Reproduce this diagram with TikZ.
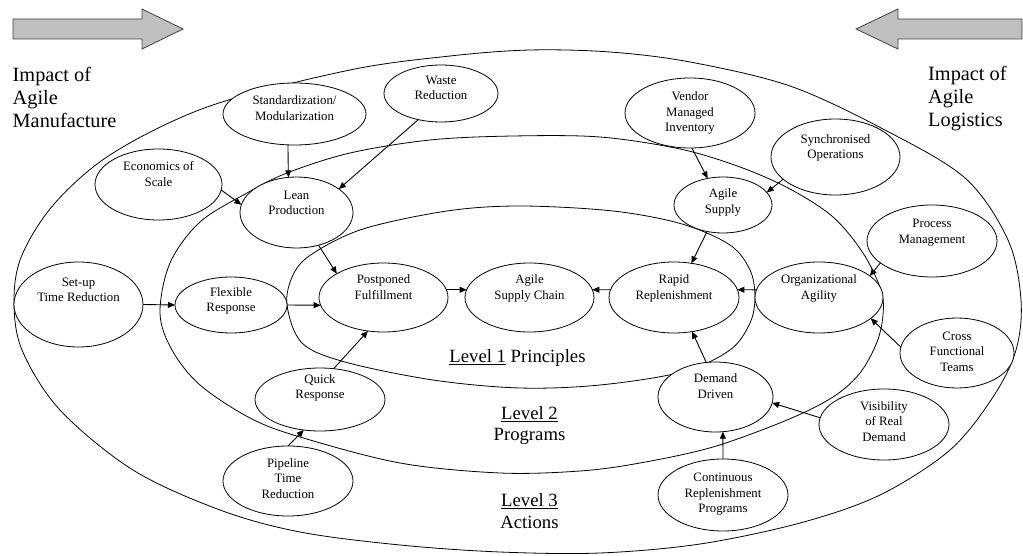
\documentclass[tikz,border=0pt]{standalone}
\usepackage{fontspec}
\setmainfont{Liberation Serif}
\usetikzlibrary{shapes.geometric,arrows.meta}

% text block inside an oval, shifted up by #1 from the oval centre
\newcommand\ovaltext[2]{\raisebox{#1}[0pt][0pt]{\begin{tabular}{@{}c@{}}#2\end{tabular}}}

\tikzset{
  oval/.style={ellipse, draw, fill=white, line width=0.8pt, inner sep=0pt, outer sep=0pt,
               font=\fontsize{12.8}{15.5}\selectfont},
  arr/.style={-{Triangle[length=7pt,width=6pt]}, line width=0.9pt},
  ring/.style={line width=0.8pt},
  bigtext/.style={font=\fontsize{20.3}{23}\selectfont, align=left, inner sep=0pt, anchor=west},
  lvl/.style={font=\fontsize{18.7}{21.5}\selectfont, align=center, inner sep=0pt},
  block/.style={draw=black!75, fill=black!25, line width=0.8pt, line join=miter}
}

\begin{document}
\begin{tikzpicture}[x=1pt,y=-1pt]
\useasboundingbox (0,0) rectangle (1023,556);

% block arrows at the top
\draw[block] (13,19) -- (142,19) -- (142,9) -- (183,29) -- (142,49) -- (142,39) -- (13,39) -- cycle;
\draw[block] (1022,19) -- (898,19) -- (898,9) -- (856,29) -- (898,49) -- (898,39) -- (1022,39) -- cycle;

% headings
\node[bigtext] (mfg) at (12.5,97) {Impact of\\Agile\\Manufacture};
\node[bigtext] (log) at (928,99) {Impact of\\Agile\\Logistics};

% the three levels: actions, programs, principles
\draw[ring] plot[smooth cycle, tension=0.55] coordinates {
  (14,300) (22,255) (55,203) (113,153) (210,106) (350,70) (450,56) (530,50)
  (610,52) (690,62) (790,86) (883,129) (965,178) (1008,240) (1021,300)
  (1016,350) (993,397) (950,450) (880,495) (800,523) (700,544) (600,553)
  (500,552) (400,545) (300,532) (220,510) (133,470) (60,410) (22,350)};
\draw[ring] plot[smooth cycle, tension=0.55] coordinates {
  (160,313) (170,263) (200,222) (247,193) (287,173) (350,153) (430,140)
  (513,136) (600,137) (680,149) (740,167) (790,189) (833,217) (863,253)
  (881,290) (883,315) (877,342) (860,373) (833,397) (787,420) (713,447)
  (640,463) (580,471) (500,473) (400,463) (300,437) (250,418) (200,385)
  (172,350)};
\draw[ring] plot[smooth cycle, tension=0.55] coordinates {
  (287,305) (293,275) (312,254) (363,229) (447,211) (520,206) (613,211)
  (682,224) (730,245) (750,270) (755,297) (750,323) (730,350) (682,372)
  (600,385) (520,388) (433,380) (345,362) (302,343)};

\node[lvl] (lv1) at (517.5,358) {\underline{Level 1} Principles};
\node[lvl] (lv2) at (529.5,425.5) {\underline{Level 2}\\Programs};
\node[lvl] (lv3) at (529.5,511) {\underline{Level 3}\\Actions};

% level 1
\node[oval, minimum width=129pt, minimum height=69pt] (asc) at (529.5,297.5) {\ovaltext{6.3pt}{Agile\\Supply Chain}};
\node[oval, minimum width=129pt, minimum height=69pt] (post) at (383.5,297.5) {\ovaltext{6.3pt}{Postponed\\Fulfillment}};
\node[oval, minimum width=130pt, minimum height=71pt] (rapid) at (674,297.5) {\ovaltext{6.3pt}{Rapid\\Replenishment}};

% level 2
\node[oval, minimum width=113pt, minimum height=71pt] (lean) at (296.5,212.5) {\ovaltext{5.8pt}{Lean\\Production}};
\node[oval, minimum width=112pt, minimum height=56pt] (flex) at (231,305) {\ovaltext{1.3pt}{Flexible\\Response}};
\node[oval, minimum width=130pt, minimum height=63pt] (quick) at (320,399.5) {\ovaltext{8.8pt}{Quick\\Response}};
\node[oval, minimum width=98pt, minimum height=56pt] (agsup) at (723,205) {\ovaltext{-0.2pt}{Agile\\Supply}};
\node[oval, minimum width=128pt, minimum height=71pt] (org) at (819,297.5) {\ovaltext{6.3pt}{Organizational\\Agility}};
\node[oval, minimum width=115pt, minimum height=70pt] (demand) at (715.5,397) {\ovaltext{6.8pt}{Demand\\Driven}};

% level 3
\node[oval, minimum width=143pt, minimum height=62pt] (std) at (294.5,114) {\ovaltext{1.8pt}{Standardization/\\Modularization}};
\node[oval, minimum width=127pt, minimum height=71pt] (econ) at (158.5,184.5) {\ovaltext{6.3pt}{Economics of\\Scale}};
\node[oval, minimum width=114pt, minimum height=57pt] (waste) at (441,93.5) {\ovaltext{1.8pt}{Waste\\Reduction}};
\node[oval, minimum width=129pt, minimum height=85pt] (setup) at (78.5,304.5) {\ovaltext{10.8pt}{Set-up\\Time Reduction}};
\node[oval, minimum width=130pt, minimum height=70pt] (pipe) at (288,481) {\ovaltext{-1.7pt}{Pipeline\\Time\\Reduction}};
\node[oval, minimum width=130pt, minimum height=70pt] (vendor) at (690,113) {\ovaltext{-3.2pt}{Vendor\\Managed\\Inventory}};
\node[oval, minimum width=129pt, minimum height=76pt] (sync) at (835.5,157) {\ovaltext{6.3pt}{Synchronised\\Operations}};
\node[oval, minimum width=130pt, minimum height=72pt] (proc) at (932,241) {\ovaltext{5.8pt}{Process\\Management}};
\node[oval, minimum width=114pt, minimum height=70pt] (cross) at (957,353) {\ovaltext{-2.7pt}{Cross\\Functional\\Teams}};
\node[oval, minimum width=130pt, minimum height=71pt] (vis) at (884,424.5) {\ovaltext{-1.2pt}{Visibility\\of Real\\Demand}};
\node[oval, minimum width=130pt, minimum height=72pt] (cont) at (723,495) {\ovaltext{-2.2pt}{Continuous\\Replenishment\\Programs}};

% connectors
\draw[arr] (std.258) -- (lean.103);
\draw[arr] (econ.-5) -- (lean.172);
\draw[arr] (waste.229) -- (lean.29);
\draw[arr] (lean.-56) -- (post.153);
\draw[arr] (setup.east) -- (flex.west);
\draw[arr] (flex.east) -- (post.187);
\draw[arr] (quick.66) -- (post.245);
\draw[arr] (pipe.90) -- (quick.242);
\draw[arr] (post.7) -- (asc.173);
\draw[arr] (rapid.173) -- (asc.7);
\draw[arr] (agsup.239) -- (rapid.63);
\draw[arr] (vendor.273) -- (agsup.120);
\draw[arr] (sync.203) -- (agsup.16);
\draw[arr] (org.173) -- (rapid.7);
\draw[arr] (proc.203) -- (org.23);
\draw[arr] (cross.174) -- (org.-22);
\draw[arr] (demand.105) -- (rapid.-62);
\draw[arr] (vis.174) -- (demand.-6);
\draw[arr] (cont.90) -- (demand.-78);
\end{tikzpicture}
\end{document}
